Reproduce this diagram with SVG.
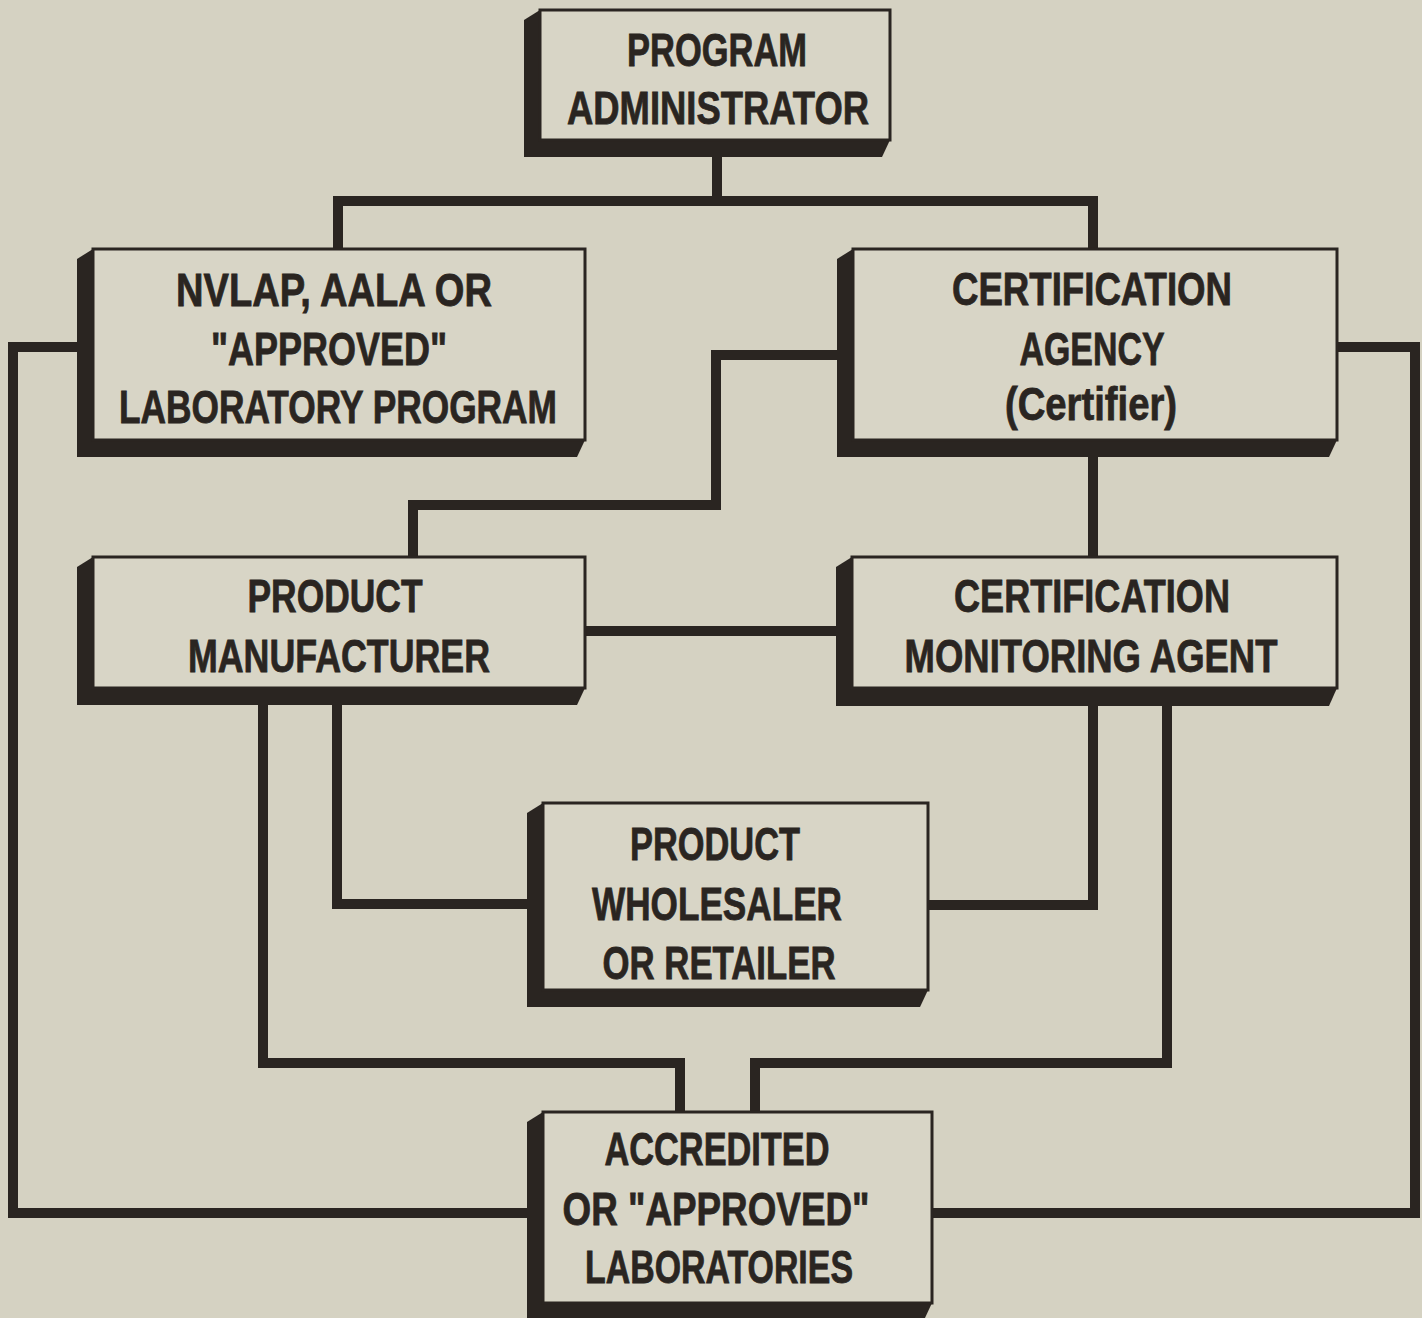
<svg xmlns="http://www.w3.org/2000/svg" width="1422" height="1318" viewBox="0 0 1422 1318">
<style>
.bg{fill:#d5d2c2}
.sh{fill:#2a2521}
.fr{fill:#d8d5c6;stroke:#2a2521;stroke-width:3}
.t{font-family:"Liberation Sans","Arial",sans-serif;font-weight:bold;font-size:47px;fill:#2a2521;stroke:#2a2521;stroke-width:0.8;text-anchor:middle}
.c{fill:none;stroke:#2a2521;stroke-width:10;stroke-linejoin:miter;stroke-linecap:square}
</style>
<rect class="bg" x="0" y="0" width="1422" height="1318"/>
<g id="connectors">
<path class="c" d="M717,157 V201"/>
<path class="c" d="M338,249 V201 H1093 V249"/>
<path class="c" d="M77,347 H13 V1213 H527"/>
<path class="c" d="M1337,347 H1415 V1213 H932"/>
<path class="c" d="M836,355 H716 V505 H413 V557"/>
<path class="c" d="M1093,457 V557"/>
<path class="c" d="M585,631 H836"/>
<path class="c" d="M337,705 V904 H527"/>
<path class="c" d="M263,705 V1063 H680 V1112"/>
<path class="c" d="M1093,706 V905 H928"/>
<path class="c" d="M1167,706 V1063 H755 V1112"/>
</g>
<g id="admin">
<polygon class="sh" points="540,10 524,20 524,157 882,157 890,140"/>
<rect class="fr" x="540" y="10" width="350" height="130"/>
<text class="t" x="717" y="66" textLength="180" lengthAdjust="spacingAndGlyphs">PROGRAM</text>
<text class="t" x="718" y="124" textLength="302" lengthAdjust="spacingAndGlyphs">ADMINISTRATOR</text>
</g>
<g id="nvlap">
<polygon class="sh" points="93,249 77,259 77,457 577,457 585,440"/>
<rect class="fr" x="93" y="249" width="492" height="191"/>
<text class="t" x="334" y="306" textLength="316" lengthAdjust="spacingAndGlyphs">NVLAP, AALA OR</text>
<text class="t" x="329" y="365" textLength="236" lengthAdjust="spacingAndGlyphs">"APPROVED"</text>
<text class="t" x="338" y="423" textLength="438" lengthAdjust="spacingAndGlyphs">LABORATORY PROGRAM</text>
</g>
<g id="certifier">
<polygon class="sh" points="853,249 837,259 837,457 1329,457 1337,440"/>
<rect class="fr" x="853" y="249" width="484" height="191"/>
<text class="t" x="1092" y="305" textLength="280" lengthAdjust="spacingAndGlyphs">CERTIFICATION</text>
<text class="t" x="1092" y="365" textLength="145" lengthAdjust="spacingAndGlyphs">AGENCY</text>
<text class="t" x="1091" y="420" textLength="172" lengthAdjust="spacingAndGlyphs">(Certifier)</text>
</g>
<g id="manufacturer">
<polygon class="sh" points="93,557 77,567 77,705 577,705 585,688"/>
<rect class="fr" x="93" y="557" width="492" height="131"/>
<text class="t" x="335" y="612" textLength="175" lengthAdjust="spacingAndGlyphs">PRODUCT</text>
<text class="t" x="339" y="672" textLength="302" lengthAdjust="spacingAndGlyphs">MANUFACTURER</text>
</g>
<g id="monitoring">
<polygon class="sh" points="852,557 836,567 836,706 1329,706 1337,688"/>
<rect class="fr" x="852" y="557" width="485" height="131"/>
<text class="t" x="1092" y="612" textLength="276" lengthAdjust="spacingAndGlyphs">CERTIFICATION</text>
<text class="t" x="1091" y="672" textLength="373" lengthAdjust="spacingAndGlyphs">MONITORING AGENT</text>
</g>
<g id="wholesaler">
<polygon class="sh" points="543,803 527,813 527,1007 920,1007 928,990"/>
<rect class="fr" x="543" y="803" width="385" height="187"/>
<text class="t" x="715" y="860" textLength="170" lengthAdjust="spacingAndGlyphs">PRODUCT</text>
<text class="t" x="717" y="920" textLength="250" lengthAdjust="spacingAndGlyphs">WHOLESALER</text>
<text class="t" x="719" y="979" textLength="233" lengthAdjust="spacingAndGlyphs">OR RETAILER</text>
</g>
<g id="laboratories">
<polygon class="sh" points="543,1112 527,1122 527,1320 924,1320 932,1303"/>
<rect class="fr" x="543" y="1112" width="389" height="191"/>
<text class="t" x="717" y="1165" textLength="225" lengthAdjust="spacingAndGlyphs">ACCREDITED</text>
<text class="t" x="716" y="1225" textLength="307" lengthAdjust="spacingAndGlyphs">OR "APPROVED"</text>
<text class="t" x="719" y="1283" textLength="268" lengthAdjust="spacingAndGlyphs">LABORATORIES</text>
</g>
</svg>
